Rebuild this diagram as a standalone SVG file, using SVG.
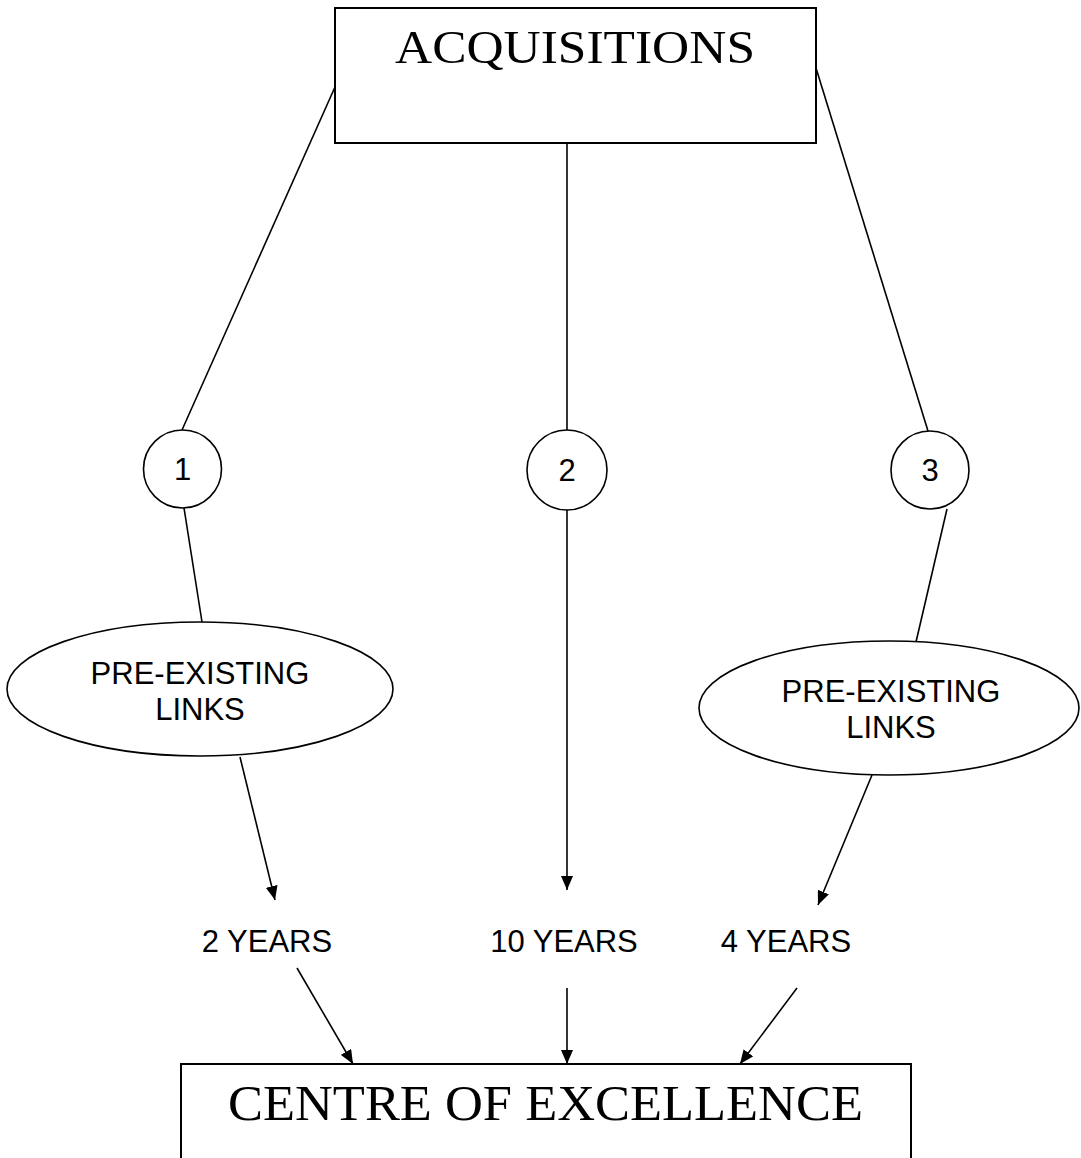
<svg xmlns="http://www.w3.org/2000/svg" width="1081" height="1158" viewBox="0 0 1081 1158">
<style>
.box{fill:#fff;stroke:#000;stroke-width:2}
.shape{fill:#fff;stroke:#000;stroke-width:1.6}
.ln{stroke:#000;stroke-width:1.6;fill:none}
.ar{stroke:#000;stroke-width:1.6;fill:none;marker-end:url(#ah)}
.serif{font-family:"Liberation Serif","Times New Roman",serif;fill:#000}
.sans{font-family:"Liberation Sans",Arial,sans-serif;font-size:31px;fill:#000;text-anchor:middle}
</style>
<defs>
<marker id="ah" viewBox="0 0 14 12" refX="14" refY="6" markerWidth="14" markerHeight="12" markerUnits="userSpaceOnUse" orient="auto">
<path d="M0,0 L14,6 L0,12 Z" fill="#000"/>
</marker>
</defs>
<g id="connectors">
<line class="ln" x1="335" y1="87" x2="182" y2="430"/>
<line class="ln" x1="567" y1="143" x2="567" y2="430"/>
<line class="ln" x1="816" y1="68" x2="928" y2="431"/>
<line class="ln" x1="184" y1="508" x2="202" y2="622"/>
<line class="ln" x1="947" y1="509" x2="916" y2="642"/>
<line class="ar" x1="240" y1="757" x2="275" y2="900"/>
<line class="ar" x1="567" y1="509" x2="567" y2="890"/>
<line class="ar" x1="872" y1="775" x2="818" y2="905"/>
<line class="ar" x1="297" y1="968" x2="353" y2="1064"/>
<line class="ar" x1="567" y1="988" x2="567" y2="1064"/>
<line class="ar" x1="797" y1="988" x2="740" y2="1064"/>
</g>
<g id="acquisitions">
<rect class="box" x="335" y="8" width="481" height="135"/>
<text class="serif" x="575" y="63" font-size="47" text-anchor="middle" textLength="360" lengthAdjust="spacingAndGlyphs">ACQUISITIONS</text>
</g>
<g id="circle1">
<circle class="shape" cx="182.5" cy="469" r="39"/>
<text class="sans" x="182.5" y="480">1</text>
</g>
<g id="circle2">
<circle class="shape" cx="567" cy="470" r="40"/>
<text class="sans" x="567" y="481">2</text>
</g>
<g id="circle3">
<circle class="shape" cx="930" cy="470" r="39"/>
<text class="sans" x="930" y="481">3</text>
</g>
<g id="links1">
<ellipse class="shape" cx="200" cy="689" rx="193" ry="67"/>
<text class="sans" x="200" y="684">PRE-EXISTING</text>
<text class="sans" x="200" y="720">LINKS</text>
</g>
<g id="links3">
<ellipse class="shape" cx="889" cy="708" rx="190" ry="67"/>
<text class="sans" x="891" y="702">PRE-EXISTING</text>
<text class="sans" x="891" y="738">LINKS</text>
</g>
<g id="years2">
<text class="sans" x="267" y="952">2 YEARS</text>
</g>
<g id="years10">
<text class="sans" x="564" y="952">10 YEARS</text>
</g>
<g id="years4">
<text class="sans" x="786" y="952">4 YEARS</text>
</g>
<g id="centre">
<rect class="box" x="181" y="1064" width="730" height="120"/>
<text class="serif" x="545.5" y="1120" font-size="50" text-anchor="middle" textLength="635" lengthAdjust="spacingAndGlyphs">CENTRE OF EXCELLENCE</text>
</g>
</svg>
